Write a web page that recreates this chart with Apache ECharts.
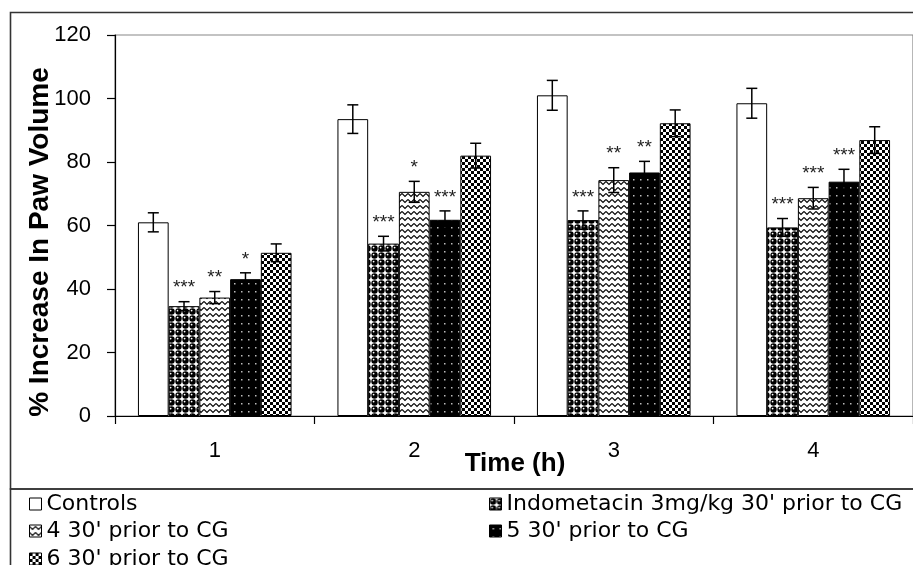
<!DOCTYPE html>
<html>
<head>
<meta charset="utf-8">
<script src="https://cdn.jsdelivr.net/npm/echarts@6/dist/echarts.min.js"></script>
<style>
html,body{margin:0;padding:0;background:#fff;}
#chart{width:913px;height:565px;}
</style>
</head>
<body>
<div id="chart"></div>
<script>
// ---- data ----
const categories = ['1', '2', '3', '4'];
const seriesNames = ['Controls', "Indometacin 3mg/kg 30' prior to CG", "4 30' prior to CG", "5 30' prior to CG", "6 30' prior to CG"];
const controls      = [61.0, 93.5, 101.0, 98.5];
const controlsErr   = [3.0, 4.5, 4.7, 4.7];
const indometacin   = [34.6, 54.3, 61.7, 59.4];
const indometacinErr= [1.4, 2.3, 2.9, 2.8];
const cmp4          = [37.3, 70.6, 74.3, 68.6];
const cmp4Err       = [1.9, 3.3, 3.9, 3.4];
const cmp5          = [43.1, 61.8, 76.7, 73.8];
const cmp5Err       = [2.0, 2.8, 3.5, 3.9];
const cmp6          = [51.4, 82.0, 92.2, 86.9];
const cmp6Err       = [2.8, 3.9, 4.2, 4.2];
const controlsStars    = ['', '', '', ''];
const indometacinStars = ['***', '***', '***', '***'];
const cmp4Stars        = ['**', '*', '**', '***'];
const cmp5Stars        = ['*', '***', '**', '***'];
const cmp6Stars        = ['', '', '', ''];
const yTicks = [0, 20, 40, 60, 80, 100, 120];

const values = [controls, indometacin, cmp4, cmp5, cmp6];
const errors = [controlsErr, indometacinErr, cmp4Err, cmp5Err, cmp6Err];
const stars  = [controlsStars, indometacinStars, cmp4Stars, cmp5Stars, cmp6Stars];

// ---- patterns ----
function makePattern(w, h, draw) {
  const c = document.createElement('canvas');
  c.width = w; c.height = h;
  const ctx = c.getContext('2d');
  draw(ctx, w, h);
  return { image: c, repeat: 'repeat' };
}
const patCircles = makePattern(7, 7, (ctx, w, h) => {
  ctx.fillStyle = '#fff'; ctx.fillRect(0, 0, w, h);
  ctx.fillStyle = '#000';
  ctx.beginPath(); ctx.arc(3.5, 3.5, 3.2, 0, Math.PI * 2); ctx.fill();
  ctx.fillStyle = '#fff';
  ctx.beginPath(); ctx.arc(2.6, 2.6, 0.9, 0, Math.PI * 2); ctx.fill();
});
const patZigzag = makePattern(6, 6, (ctx, w, h) => {
  ctx.fillStyle = '#fff'; ctx.fillRect(0, 0, w, h);
  ctx.strokeStyle = '#000'; ctx.lineWidth = 1.1;
  ctx.beginPath(); ctx.moveTo(0, 1.5); ctx.lineTo(3, 4.5); ctx.lineTo(6, 1.5); ctx.stroke();
});
const patDots = makePattern(7, 8, (ctx, w, h) => {
  ctx.fillStyle = '#000'; ctx.fillRect(0, 0, w, h);
  ctx.fillStyle = '#bbb'; ctx.fillRect(3, 3, 1.5, 1.5);
});
const patChecker = makePattern(6, 6, (ctx, w, h) => {
  ctx.fillStyle = '#fff'; ctx.fillRect(0, 0, w, h);
  ctx.fillStyle = '#000';
  ctx.fillRect(0, 0, 3, 3); ctx.fillRect(3, 3, 3, 3);
});
const fills = ['#ffffff', patCircles, patZigzag, patDots, patChecker];

const GAP = 0.23;
const chart = echarts.init(document.getElementById('chart'), null, { renderer: 'canvas' });

const barSeries = seriesNames.map((name, i) => ({
  type: 'bar',
  name: name,
  data: values[i],
  barGap: '0%',
  barCategoryGap: (GAP * 100) + '%',
  itemStyle: { color: fills[i], borderColor: '#000', borderWidth: 1 },
  emphasis: { disabled: true },
  z: 2
}));

const errSeries = seriesNames.map((name, i) => ({
  type: 'custom',
  name: name + ' error',
  silent: true,
  z: 5,
  data: values[i].map((v, k) => [k, v, errors[i][k]]),
  encode: { x: 0, y: 1 },
  renderItem: function (params, api) {
    const k = api.value(0), v = api.value(1), e = api.value(2);
    const band = api.size([1, 0])[0];
    const bw = band * (1 - GAP) / 5;
    const cx = api.coord([k, 0])[0] + (i - 2) * bw;
    const yT = api.coord([k, v + e])[1];
    const yB = api.coord([k, v - e])[1];
    const cap = 5.5;
    const st = { stroke: '#000', lineWidth: 1.5 };
    const children = [
      { type: 'line', shape: { x1: cx, y1: yT, x2: cx, y2: yB }, style: st },
      { type: 'line', shape: { x1: cx - cap, y1: yT, x2: cx + cap, y2: yT }, style: st },
      { type: 'line', shape: { x1: cx - cap, y1: yB, x2: cx + cap, y2: yB }, style: st }
    ];
    const s = stars[i][params.dataIndex];
    if (s) {
      children.push({
        type: 'text',
        style: {
          text: s, x: cx, y: yT - 4,
          align: 'center', verticalAlign: 'bottom',
          font: '19px "Liberation Sans", Arial, sans-serif',
          fill: '#222'
        }
      });
    }
    return { type: 'group', children: children };
  }
}));

const legendFont = { fontFamily: '"DejaVu Sans", sans-serif', fontSize: 22, color: '#000' };
function legendAt(name, left, top) {
  return {
    data: [name], left: left, top: top, padding: 0,
    itemWidth: 12, itemHeight: 12, icon: 'rect',
    itemStyle: { borderColor: '#000', borderWidth: 1 },
    textStyle: legendFont, selectedMode: false
  };
}

const option = {
  backgroundColor: '#fff',
  animation: false,
  grid: { left: 115, top: 35, right: -11, bottom: 149, show: true, borderColor: '#888', borderWidth: 1.2, backgroundColor: 'transparent' },
  xAxis: {
    type: 'category',
    data: categories,
    axisLine: { lineStyle: { color: '#000', width: 1.2 } },
    axisTick: { show: true, alignWithLabel: false, length: 8, lineStyle: { color: '#000', width: 1.2 } },
    axisLabel: { margin: 24, fontFamily: '"Liberation Sans", Arial, sans-serif', fontSize: 22, color: '#000' },
    splitLine: { show: false }
  },
  yAxis: {
    type: 'value',
    min: yTicks[0], max: yTicks[yTicks.length - 1], interval: 20,
    axisLine: { show: true, lineStyle: { color: '#000', width: 1.2 } },
    axisTick: { show: true, length: 8, lineStyle: { color: '#000', width: 1.2 } },
    axisLabel: { margin: 24, fontFamily: '"Liberation Sans", Arial, sans-serif', fontSize: 22, color: '#000' },
    splitLine: { show: false }
  },
  legend: [
    legendAt(seriesNames[0], 29, 493),
    legendAt(seriesNames[1], 489, 493),
    legendAt(seriesNames[2], 29, 520),
    legendAt(seriesNames[3], 489, 520),
    legendAt(seriesNames[4], 29, 548)
  ],
  graphic: [
    { type: 'rect', silent: true, z: -1, shape: { x: 10.5, y: 12.5, width: 1000, height: 476.5 }, style: { fill: 'none', stroke: '#333', lineWidth: 1.6 } },
    { type: 'rect', silent: true, z: -1, shape: { x: 10.5, y: 489, width: 1000, height: 200 }, style: { fill: 'none', stroke: '#333', lineWidth: 1.6 } },
    { type: 'text', silent: true, x: 40, y: 242, rotation: Math.PI / 2,
      style: { text: '% Increase In Paw Volume', align: 'center', verticalAlign: 'middle', font: 'bold 28px "Liberation Sans", Arial, sans-serif', fill: '#000' } },
    { type: 'text', silent: true, x: 515, y: 464,
      style: { text: 'Time (h)', align: 'center', verticalAlign: 'middle', font: 'bold 26px "Liberation Sans", Arial, sans-serif', fill: '#000' } }
  ],
  series: barSeries.concat(errSeries)
};
chart.setOption(option);
</script>
</body>
</html>
